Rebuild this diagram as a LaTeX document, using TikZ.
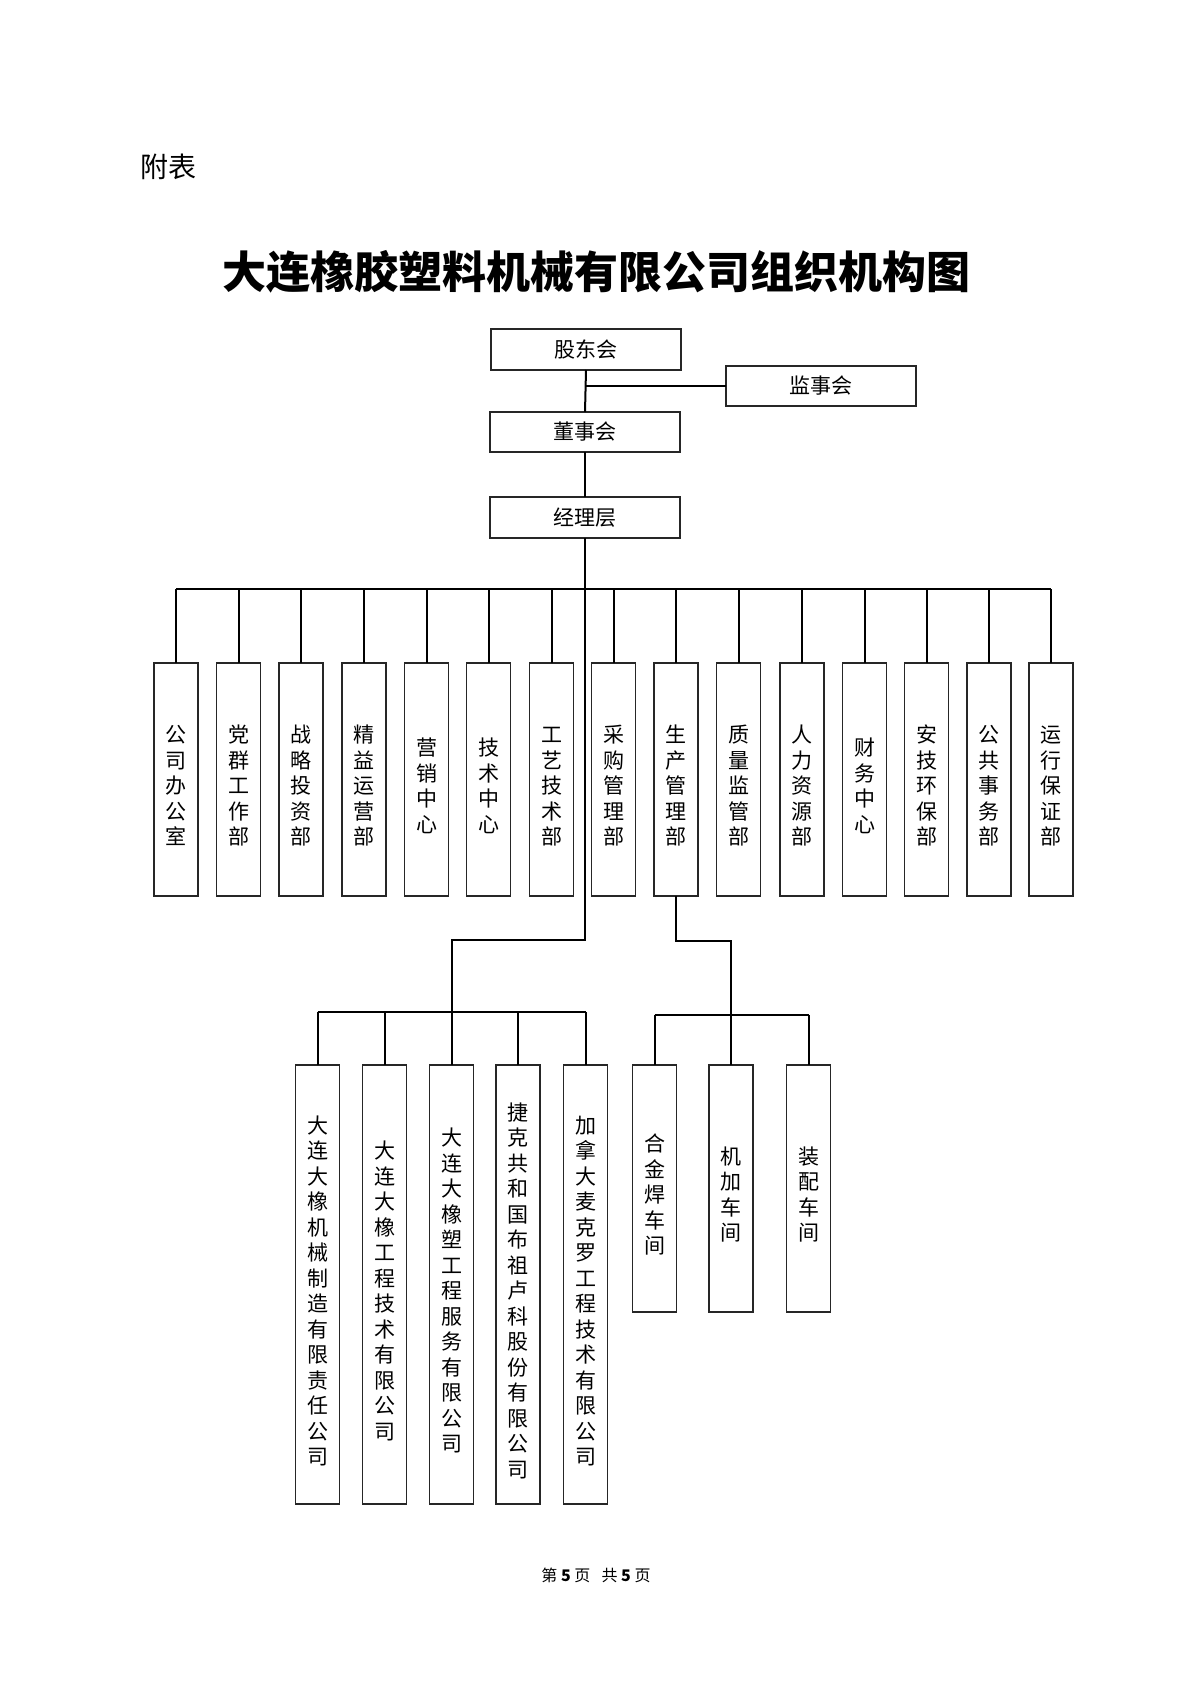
\documentclass[tikz,border=0pt]{standalone}
\usepackage{fontspec}
\newfontfamily\cjk{Noto Sans CJK SC}
\newcommand\vfont{\cjk\fontsize{21pt}{25.5pt}\selectfont}
\newcommand\hfont{\cjk\fontsize{21pt}{25pt}\selectfont}
\newcommand\vs{\rule{0pt}{30pt}}
\tikzset{
  vbox/.style={draw=black!85, line width=1.1pt, minimum width=44pt, inner sep=0pt, outer sep=0pt, align=center, font=\vfont},
  hbox/.style={draw=black!85, line width=1.1pt, minimum width=190pt, inner sep=0pt, outer sep=0pt, font=\hfont},
  conn/.style={draw=black, line width=2pt}
}
\begin{document}
\begin{tikzpicture}[x=1pt,y=-1pt]
\fill[white] (0,0) rectangle (1190,1683);
\useasboundingbox (0,0) rectangle (1190,1683);

% headings
\node[anchor=west, font={\cjk\fontsize{28pt}{32pt}\selectfont}] (fb) at (137,167) {附表};
\node[font={\cjk\bfseries\fontsize{44pt}{50pt}\selectfont}] (title) at (596,272) {大连橡胶塑料机械有限公司组织机构图};

% top boxes
\node[hbox, minimum height=41pt] (gd) at (586,349.5) {股东会};
\node[hbox, minimum height=40pt] (js) at (821,386) {监事会};
\node[hbox, minimum height=40pt] (ds) at (585,432) {董事会};
\node[hbox, minimum height=41pt] (jl) at (585,517.5) {经理层};

% departments
\begin{scope}[every node/.style={vbox, minimum height=233pt}]
\node (d1)  at (176,779.5)   {\vs 公\\司\\办\\公\\室};
\node (d2)  at (238.5,779.5) {\vs 党\\群\\工\\作\\部};
\node (d3)  at (301,779.5)   {\vs 战\\略\\投\\资\\部};
\node (d4)  at (364,779.5)   {\vs 精\\益\\运\\营\\部};
\node (d5)  at (426.5,779.5) {\vs 营\\销\\中\\心};
\node (d6)  at (488.5,779.5) {\vs 技\\术\\中\\心};
\node (d7)  at (551.5,779.5) {\vs 工\\艺\\技\\术\\部};
\node (d8)  at (613.5,779.5) {\vs 采\\购\\管\\理\\部};
\node (d9)  at (676,779.5)   {\vs 生\\产\\管\\理\\部};
\node (d10) at (738.5,779.5) {\vs 质\\量\\监\\管\\部};
\node (d11) at (802,779.5)   {\vs 人\\力\\资\\源\\部};
\node (d12) at (864.5,779.5) {\vs 财\\务\\中\\心};
\node (d13) at (926.5,779.5) {\vs 安\\技\\环\\保\\部};
\node (d14) at (989,779.5)   {\vs 公\\共\\事\\务\\部};
\node (d15) at (1051,779.5)  {\vs 运\\行\\保\\证\\部};
\end{scope}

% subsidiaries
\begin{scope}[every node/.style={vbox, minimum height=439pt}]
\node (s1) at (317.5,1284.5) {\vs 大\\连\\大\\橡\\机\\械\\制\\造\\有\\限\\责\\任\\公\\司};
\node (s2) at (384.5,1284.5) {\vs 大\\连\\大\\橡\\工\\程\\技\\术\\有\\限\\公\\司};
\node (s3) at (451.5,1284.5) {\vs 大\\连\\大\\橡\\塑\\工\\程\\服\\务\\有\\限\\公\\司};
\node (s4) at (518,1284.5)   {\vs 捷\\克\\共\\和\\国\\布\\祖\\卢\\科\\股\\份\\有\\限\\公\\司};
\node (s5) at (585.5,1284.5) {\vs 加\\拿\\大\\麦\\克\\罗\\工\\程\\技\\术\\有\\限\\公\\司};
\end{scope}

% workshops
\begin{scope}[every node/.style={vbox, minimum height=247pt}]
\node (w1) at (654.5,1188.5) {\vs 合\\金\\焊\\车\\间};
\node (w2) at (731,1188.5)   {\vs 机\\加\\车\\间};
\node (w3) at (808.5,1188.5) {\vs 装\\配\\车\\间};
\end{scope}

% footer
\node[font={\cjk\fontsize{16pt}{18pt}\selectfont}] (ft) at (596,1575) {第 \textbf{5} 页\hspace{0.7em}共 \textbf{5} 页};

% connectors: top
\draw[conn] (gd.south) -- (ds.north);
\draw[conn] (ds.south) -- (jl.north);
\draw[conn] (gd.south |- js.west) -- (js.west);

% bus to departments
\coordinate (bus) at (0,589);
\draw[conn] (d1.north |- bus) -- (d15.north |- bus);
\foreach \i in {1,...,15} { \draw[conn] (d\i.north |- bus) -- (d\i.north); }

% trunk to subsidiaries
\coordinate (t1) at (0,940);
\coordinate (t2) at (0,1012);
\draw[conn] (jl.south) -- (jl.south |- t1) -- (s3.north |- t1) -- (s3.north);
\draw[conn] (s1.north |- t2) -- (s5.north |- t2);
\foreach \i in {1,2,4,5} { \draw[conn] (s\i.north |- t2) -- (s\i.north); }

% production to workshops
\coordinate (t3) at (0,941);
\coordinate (t4) at (0,1015);
\draw[conn] (d9.south) -- (d9.south |- t3) -- (w2.north |- t3) -- (w2.north);
\draw[conn] (w1.north |- t4) -- (w3.north |- t4);
\draw[conn] (w1.north |- t4) -- (w1.north);
\draw[conn] (w3.north |- t4) -- (w3.north);
\end{tikzpicture}
\end{document}
